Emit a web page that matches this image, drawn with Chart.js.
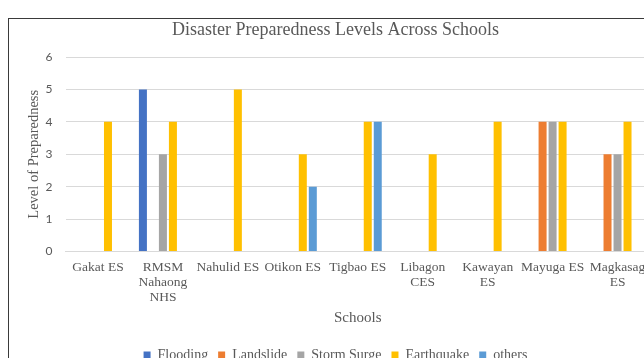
<!DOCTYPE html>
<html>
<head>
<meta charset="utf-8">
<script src="https://cdn.jsdelivr.net/npm/chart.js@4.4.0/dist/chart.umd.min.js"></script>
<style>
  html, body { margin: 0; padding: 0; background: #fff; overflow: hidden; }
  .frame {
    position: absolute;
    left: 8px;
    top: 18px;
    width: 654px;
    height: 353px;
    border: 1px solid #3a3a3a;
  }
  canvas { display: block; }
</style>
</head>
<body>
<div class="frame"><canvas id="chart"></canvas></div>
<script>
// categories (multi-line where the label wraps)
let schools = [
  "Gakat ES",
  ["RMSM", "Nahaong", "NHS"],
  "Nahulid ES",
  "Otikon ES",
  "Tigbao ES",
  ["Libagon", "CES"],
  ["Kawayan", "ES"],
  "Mayuga ES",
  ["Magkasag", "ES"],
];

// series values
let flooding   = [0, 5, 0, 0, 0, 0, 0, 0, 0];
let landslide  = [0, 0, 0, 0, 0, 0, 0, 4, 3];
let stormSurge = [0, 3, 0, 0, 0, 0, 0, 4, 3];
let earthquake = [4, 4, 5, 3, 4, 3, 4, 4, 4];
let others     = [0, 0, 0, 2, 4, 0, 0, 0, 0];

let yTicks = [0, 1, 2, 3, 4, 5, 6];

let serif = "'Liberation Serif', 'Times New Roman', serif";
let textColor = "#595959";
let gridColor = "#d9d9d9";

let ctx = document.getElementById("chart");

let myChart = new Chart(ctx, {
  type: "bar",
  data: {
    labels: schools,
    datasets: [
      { label: "Flooding", data: flooding, backgroundColor: "#4472c4" },
      { label: "Landslide", data: landslide, backgroundColor: "#ed7d31" },
      { label: "Storm Surge", data: stormSurge, backgroundColor: "#a5a5a5" },
      { label: "Earthquake", data: earthquake, backgroundColor: "#ffc000" },
      { label: "others", data: others, backgroundColor: "#5b9bd5" },
    ],
  },
  options: {
    responsive: true,
    maintainAspectRatio: false,
    animation: false,
    layout: { padding: { left: 12, right: 13, top: 0, bottom: 0 } },
    datasets: {
      bar: { categoryPercentage: 0.77, barPercentage: 0.8, borderWidth: 0 },
    },
    plugins: {
      title: {
        display: true,
        text: "Disaster Preparedness Levels Across Schools",
        color: textColor,
        font: { family: serif, size: 18, weight: "normal" },
        padding: { top: 0, bottom: 16.4 },
      },
      legend: {
        position: "bottom",
        labels: {
          color: textColor,
          font: { family: serif, size: 14 },
          boxWidth: 7,
          boxHeight: 7,
          padding: 10,
        },
      },
      tooltip: { enabled: false },
    },
    scales: {
      x: {
        grid: { display: false, drawTicks: false },
        border: { display: true, color: gridColor, width: 1 },
        ticks: {
          color: textColor,
          font: { family: serif, size: 13.5, lineHeight: 1.11 },
          padding: 8,
          maxRotation: 0,
          autoSkip: false,
        },
        title: {
          display: true,
          text: "Schools",
          color: textColor,
          font: { family: serif, size: 15 },
          padding: { top: 5, bottom: 10.5 },
        },
        afterFit: (scale) => {
          scale.height = scale.height - 8;
        },
      },
      y: {
        min: yTicks[0],
        max: yTicks[yTicks.length - 1],
        grid: { color: gridColor, lineWidth: 1, drawTicks: false },
        border: { display: false },
        ticks: {
          stepSize: 1,
          color: textColor,
          font: { family: "Lato, 'Open Sans', sans-serif", size: 12 },
          padding: 13,
        },
        title: {
          display: true,
          text: "Level of Preparedness",
          color: textColor,
          font: { family: serif, size: 14.5 },
          padding: { top: 4, bottom: 4 },
        },
        afterFit: (scale) => {
          scale.width = 44.5;
        },
      },
    },
  },
});
</script>
</body>
</html>
